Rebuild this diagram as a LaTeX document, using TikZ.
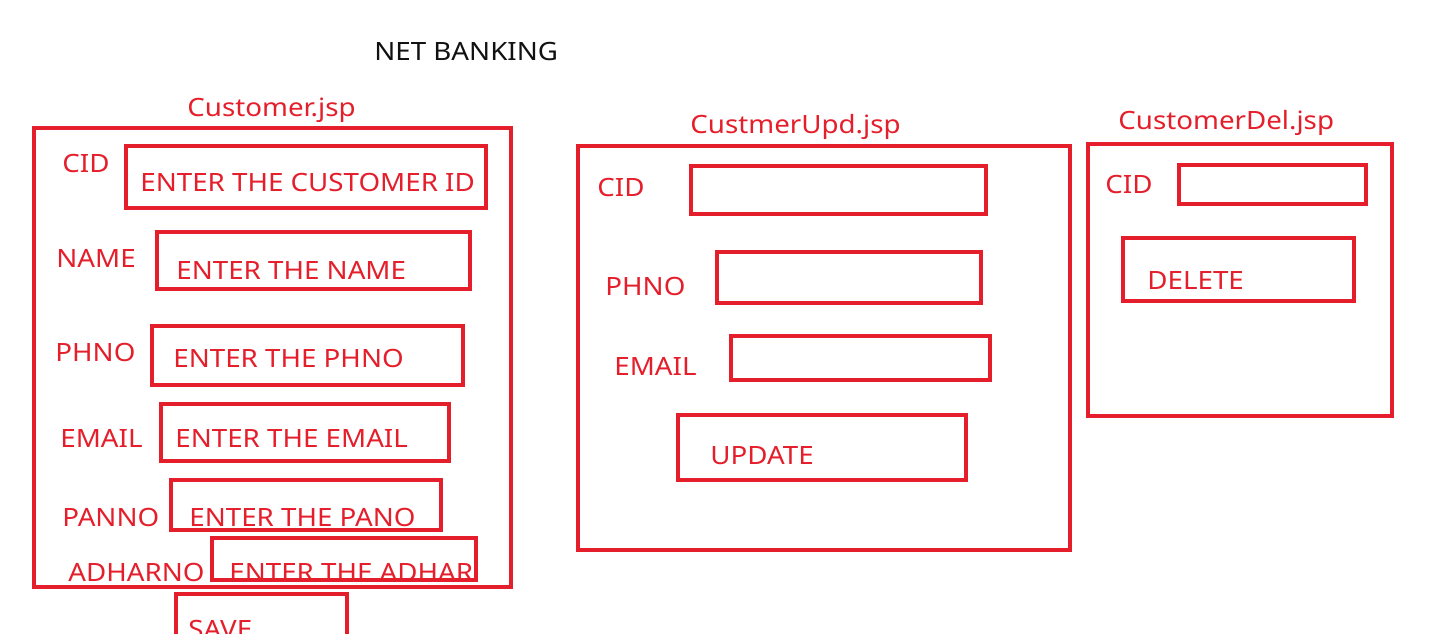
\documentclass[tikz,border=0pt]{standalone}
\usepackage{fontspec}
\setmainfont[FakeStretch=1.1]{Noto Sans}
\usepackage{tikz}
\definecolor{pen}{HTML}{E41E2A}
\definecolor{ink}{HTML}{111111}

\begin{document}
\begin{tikzpicture}[x=0.5pt,y=-0.5pt,
  box/.style={draw=pen,line width=2pt},
  lbl/.style={text=pen,anchor=base west,inner sep=0pt,font=\fontsize{12.6}{15}\selectfont}]
 \useasboundingbox (0,0) rectangle (1443,633);
 \clip (0,0) rectangle (1443,633);
 \node[lbl,text=ink] (title) at (374,60) {NET BANKING};
 % Customer.jsp
 \node[lbl] (cust) at (187,116) {Customer.jsp};
 \draw[box] (34,128) rectangle (511,587);
 \foreach \n/\l/\lx/\ly/\ax/\ay/\bx/\by/\t/\tx/\ty in {
   cid/CID/62/172/126/146/486/208/ENTER THE CUSTOMER ID/140/191,
   name/NAME/56/267/157/232/470/289/ENTER THE NAME/176/279,
   phno/PHNO/55/361/152/326/463/385/ENTER THE PHNO/173/367,
   email/EMAIL/60/447/161/404/449/461/ENTER THE EMAIL/175/447,
   panno/PANNO/62/526/171/480/441/530/ENTER THE PANO/189/526}{
   \node[lbl] (lbl-\n) at (\lx,\ly) {\l};
   \draw[box] (\ax,\ay) rectangle (\bx,\by);
   \node[lbl] (txt-\n) at (\tx,\ty) {\t};}
 \node[lbl] (lbl-adhar) at (68,581) {ADHARNO};
 \begin{scope}
  \clip (212,538) rectangle (476,578);
  \node[lbl] (txt-adhar) at (229,581) {ENTER THE ADHAR};
 \end{scope}
 \draw[box] (212,538) rectangle (476,580);
 \draw[box] (176,594) rectangle (347,650);
 \node[lbl] (save) at (188,638) {SAVE};
 % CustmerUpd.jsp
 \node[lbl] (upd) at (690,133) {CustmerUpd.jsp};
 \draw[box] (578,146) rectangle (1070,550);
 \foreach \n/\l/\lx/\ly/\ax/\ay/\bx/\by in {
   ucid/CID/597/196/691/166/986/214,
   uphno/PHNO/605/295/717/252/981/303,
   uemail/EMAIL/614/375/731/336/990/380}{
   \node[lbl] (lbl-\n) at (\lx,\ly) {\l};
   \draw[box] (\ax,\ay) rectangle (\bx,\by);}
 \draw[box] (678,415) rectangle (966,480);
 \node[lbl] (update) at (710,464) {UPDATE};
 % CustomerDel.jsp
 \node[lbl] (del) at (1118,129) {CustomerDel.jsp};
 \draw[box] (1088,144) rectangle (1392,416);
 \node[lbl] (lbl-dcid) at (1105,193) {CID};
 \draw[box] (1179,165) rectangle (1366,204);
 \draw[box] (1123,238) rectangle (1354,301);
 \node[lbl] (delete) at (1147,289) {DELETE};
\end{tikzpicture}
\end{document}
